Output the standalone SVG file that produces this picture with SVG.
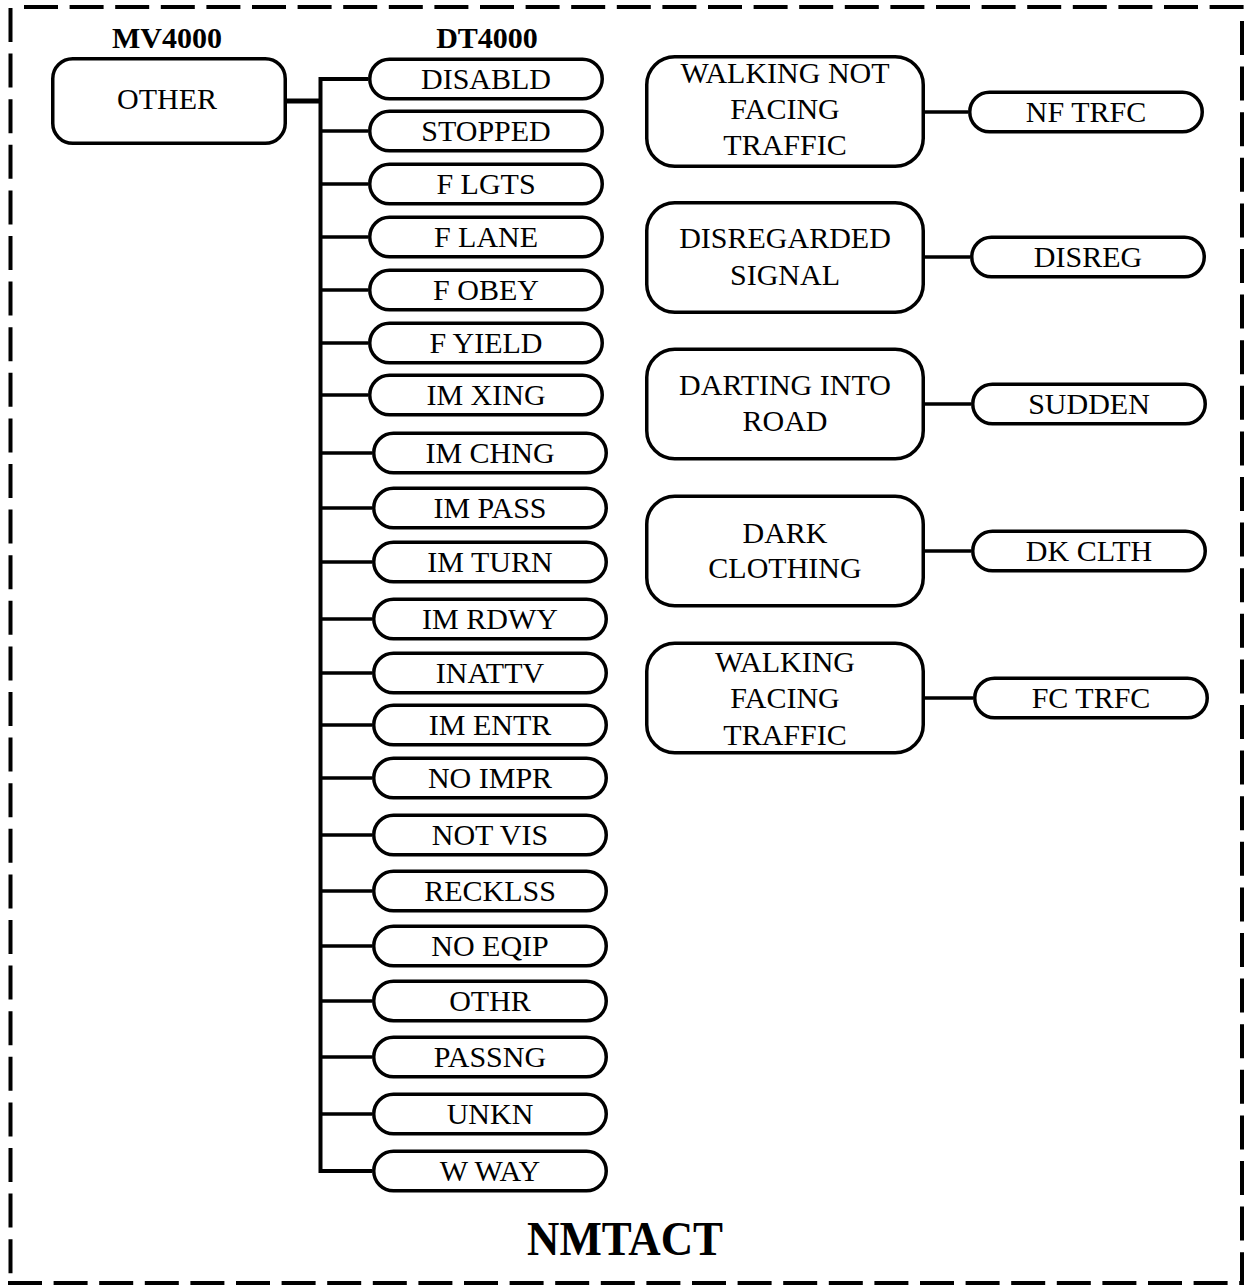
<svg xmlns="http://www.w3.org/2000/svg" width="1244" height="1285" viewBox="0 0 1244 1285">
<style>
.bd{stroke:#000;stroke-width:4;stroke-dasharray:34 11.6;fill:none}
.pill{fill:#fff;stroke:#000;stroke-width:3.5}
.box{fill:#fff;stroke:#000;stroke-width:3.5}
.t{font-family:"Liberation Serif","Times New Roman",serif;font-size:30px;text-anchor:middle;fill:#000}
.b{font-weight:bold}
.c{stroke:#000;stroke-width:3.5;fill:none}
</style>
<rect width="1244" height="1285" fill="#fff"/>
<g id="border">
<line class="bd" x1="24" y1="7" x2="1244" y2="7"/>
<line class="bd" x1="10.5" y1="8" x2="10.5" y2="1285"/>
<line class="bd" x1="1242" y1="21" x2="1242" y2="1285"/>
<line class="bd" x1="8" y1="1283" x2="1244" y2="1283"/>
</g>
<g id="headers">
<text class="t b" x="167" y="48">MV4000</text>
<text class="t b" x="487" y="48">DT4000</text>
<text class="t b" x="625" y="1255" style="font-size:48px" textLength="196" lengthAdjust="spacingAndGlyphs">NMTACT</text>
</g>
<g id="connectors">
<line class="c" x1="287" y1="101" x2="320.5" y2="101" style="stroke-width:5"/>
<path class="c" d="M368 79 H320.5 V1171 H372" style="stroke-width:4"/>
<line class="c" x1="320" y1="131" x2="368" y2="131"/>
<line class="c" x1="320" y1="184" x2="368" y2="184"/>
<line class="c" x1="320" y1="237" x2="368" y2="237"/>
<line class="c" x1="320" y1="290" x2="368" y2="290"/>
<line class="c" x1="320" y1="343" x2="368" y2="343"/>
<line class="c" x1="320" y1="395" x2="368" y2="395"/>
<line class="c" x1="320" y1="453" x2="372" y2="453"/>
<line class="c" x1="320" y1="508" x2="372" y2="508"/>
<line class="c" x1="320" y1="562" x2="372" y2="562"/>
<line class="c" x1="320" y1="619" x2="372" y2="619"/>
<line class="c" x1="320" y1="673" x2="372" y2="673"/>
<line class="c" x1="320" y1="725" x2="372" y2="725"/>
<line class="c" x1="320" y1="778" x2="372" y2="778"/>
<line class="c" x1="320" y1="835" x2="372" y2="835"/>
<line class="c" x1="320" y1="891" x2="372" y2="891"/>
<line class="c" x1="320" y1="946" x2="372" y2="946"/>
<line class="c" x1="320" y1="1001" x2="372" y2="1001"/>
<line class="c" x1="320" y1="1057" x2="372" y2="1057"/>
<line class="c" x1="320" y1="1114" x2="372" y2="1114"/>
<line class="c" x1="925" y1="112" x2="968" y2="112"/>
<line class="c" x1="925" y1="257" x2="970" y2="257"/>
<line class="c" x1="925" y1="404" x2="971" y2="404"/>
<line class="c" x1="925" y1="551" x2="971" y2="551"/>
<line class="c" x1="925" y1="698" x2="973" y2="698"/>
</g>
<g id="n-other"><rect class="box" x="52.75" y="58.75" width="232.5" height="84.5" rx="20"/><text class="t" x="167" y="109">OTHER</text></g>
<g id="n-disabld"><rect class="pill" x="369.75" y="59.25" width="232.5" height="39.5" rx="19.75"/><text class="t" x="486" y="89">DISABLD</text></g>
<g id="n-stopped"><rect class="pill" x="369.75" y="111.25" width="232.5" height="39.5" rx="19.75"/><text class="t" x="486" y="141">STOPPED</text></g>
<g id="n-flgts"><rect class="pill" x="369.75" y="164.25" width="232.5" height="39.5" rx="19.75"/><text class="t" x="486" y="194">F LGTS</text></g>
<g id="n-flane"><rect class="pill" x="369.75" y="217.25" width="232.5" height="39.5" rx="19.75"/><text class="t" x="486" y="247">F LANE</text></g>
<g id="n-fobey"><rect class="pill" x="369.75" y="270.25" width="232.5" height="39.5" rx="19.75"/><text class="t" x="486" y="300">F OBEY</text></g>
<g id="n-fyield"><rect class="pill" x="369.75" y="323.25" width="232.5" height="39.5" rx="19.75"/><text class="t" x="486" y="353">F YIELD</text></g>
<g id="n-imxing"><rect class="pill" x="369.75" y="375.25" width="232.5" height="39.5" rx="19.75"/><text class="t" x="486" y="405">IM XING</text></g>
<g id="n-imchng"><rect class="pill" x="373.75" y="433.25" width="232.5" height="39.5" rx="19.75"/><text class="t" x="490" y="463">IM CHNG</text></g>
<g id="n-impass"><rect class="pill" x="373.75" y="488.25" width="232.5" height="39.5" rx="19.75"/><text class="t" x="490" y="518">IM PASS</text></g>
<g id="n-imturn"><rect class="pill" x="373.75" y="542.25" width="232.5" height="39.5" rx="19.75"/><text class="t" x="490" y="572">IM TURN</text></g>
<g id="n-imrdwy"><rect class="pill" x="373.75" y="599.25" width="232.5" height="39.5" rx="19.75"/><text class="t" x="490" y="629">IM RDWY</text></g>
<g id="n-inattv"><rect class="pill" x="373.75" y="653.25" width="232.5" height="39.5" rx="19.75"/><text class="t" x="490" y="683">INATTV</text></g>
<g id="n-imentr"><rect class="pill" x="373.75" y="705.25" width="232.5" height="39.5" rx="19.75"/><text class="t" x="490" y="735">IM ENTR</text></g>
<g id="n-noimpr"><rect class="pill" x="373.75" y="758.25" width="232.5" height="39.5" rx="19.75"/><text class="t" x="490" y="788">NO IMPR</text></g>
<g id="n-notvis"><rect class="pill" x="373.75" y="815.25" width="232.5" height="39.5" rx="19.75"/><text class="t" x="490" y="845">NOT VIS</text></g>
<g id="n-recklss"><rect class="pill" x="373.75" y="871.25" width="232.5" height="39.5" rx="19.75"/><text class="t" x="490" y="901">RECKLSS</text></g>
<g id="n-noeqip"><rect class="pill" x="373.75" y="926.25" width="232.5" height="39.5" rx="19.75"/><text class="t" x="490" y="956">NO EQIP</text></g>
<g id="n-othr"><rect class="pill" x="373.75" y="981.25" width="232.5" height="39.5" rx="19.75"/><text class="t" x="490" y="1011">OTHR</text></g>
<g id="n-passng"><rect class="pill" x="373.75" y="1037.25" width="232.5" height="39.5" rx="19.75"/><text class="t" x="490" y="1067">PASSNG</text></g>
<g id="n-unkn"><rect class="pill" x="373.75" y="1094.25" width="232.5" height="39.5" rx="19.75"/><text class="t" x="490" y="1124">UNKN</text></g>
<g id="n-wway"><rect class="pill" x="373.75" y="1151.25" width="232.5" height="39.5" rx="19.75"/><text class="t" x="490" y="1181">W WAY</text></g>
<g id="n-walknf"><rect class="box" x="646.75" y="56.75" width="276.5" height="109.5" rx="28"/><text class="t" x="785" y="83">WALKING NOT</text><text class="t" x="785" y="119">FACING</text><text class="t" x="785" y="155">TRAFFIC</text></g>
<g id="n-nftrfc"><rect class="pill" x="969.75" y="92.25" width="232.5" height="39.5" rx="19.75"/><text class="t" x="1086" y="122">NF TRFC</text></g>
<g id="n-disregarded"><rect class="box" x="646.75" y="202.75" width="276.5" height="109.5" rx="28"/><text class="t" x="785" y="248">DISREGARDED</text><text class="t" x="785" y="285">SIGNAL</text></g>
<g id="n-disreg"><rect class="pill" x="971.75" y="237.25" width="232.5" height="39.5" rx="19.75"/><text class="t" x="1088" y="267">DISREG</text></g>
<g id="n-darting"><rect class="box" x="646.75" y="349.25" width="276.5" height="109.5" rx="28"/><text class="t" x="785" y="395">DARTING INTO</text><text class="t" x="785" y="431">ROAD</text></g>
<g id="n-sudden"><rect class="pill" x="972.75" y="384.25" width="232.5" height="39.5" rx="19.75"/><text class="t" x="1089" y="414">SUDDEN</text></g>
<g id="n-dark"><rect class="box" x="646.75" y="496.25" width="276.5" height="109.5" rx="28"/><text class="t" x="785" y="543">DARK</text><text class="t" x="785" y="578">CLOTHING</text></g>
<g id="n-dkclth"><rect class="pill" x="972.75" y="531.25" width="232.5" height="39.5" rx="19.75"/><text class="t" x="1089" y="561">DK CLTH</text></g>
<g id="n-walkf"><rect class="box" x="646.75" y="643.25" width="276.5" height="109.5" rx="28"/><text class="t" x="785" y="672">WALKING</text><text class="t" x="785" y="708">FACING</text><text class="t" x="785" y="745">TRAFFIC</text></g>
<g id="n-fctrfc"><rect class="pill" x="974.75" y="678.25" width="232.5" height="39.5" rx="19.75"/><text class="t" x="1091" y="708">FC TRFC</text></g>
</svg>
